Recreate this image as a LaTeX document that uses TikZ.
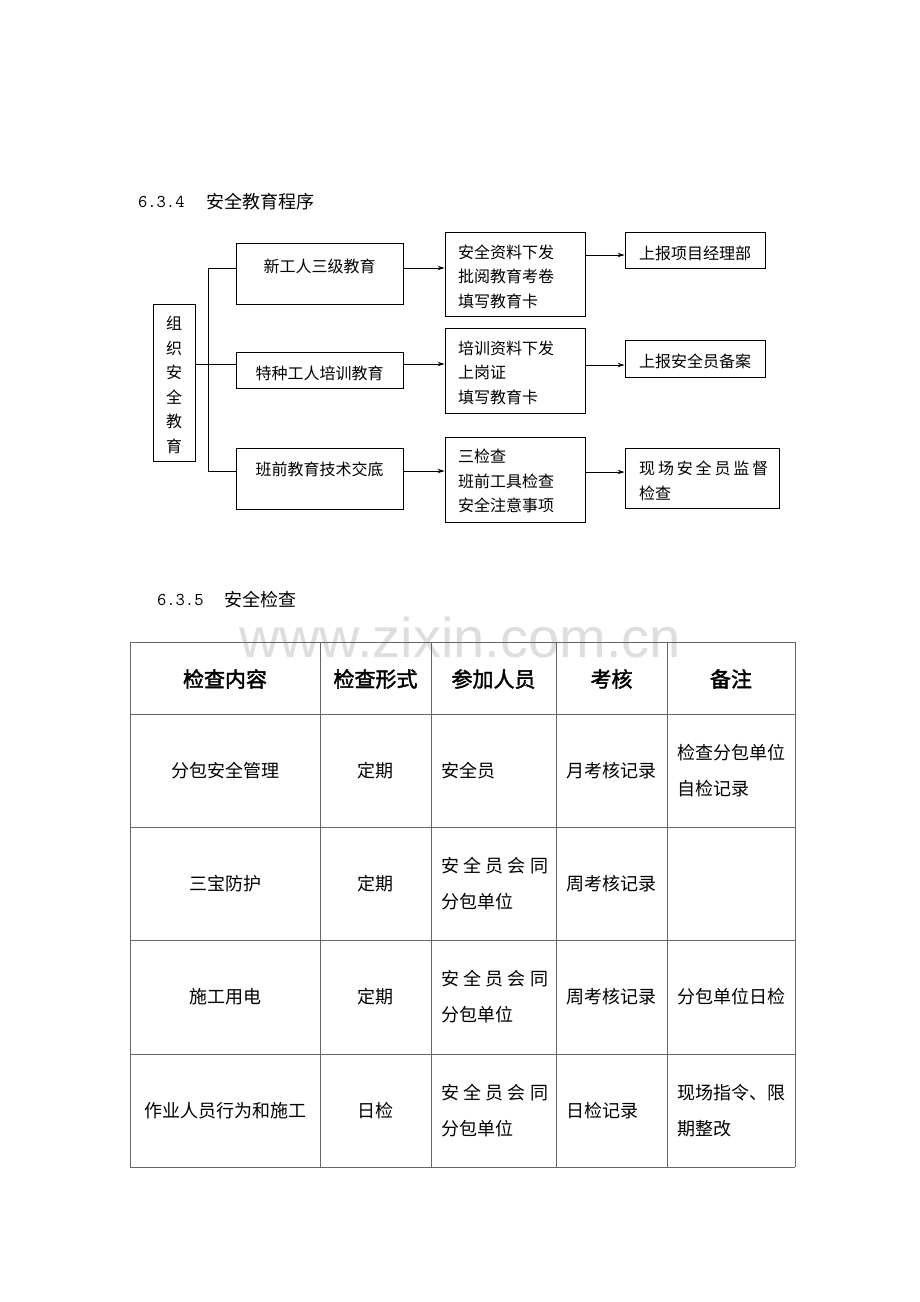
\documentclass[tikz,border=0pt]{standalone}
\usepackage{fontspec}
\setmainfont{Noto Sans CJK SC}[AutoFakeBold=2]
\newfontfamily\wmfont{Liberation Sans}
\usetikzlibrary{arrows.meta}
\begin{document}
\begin{tikzpicture}[x=1pt,y=-1pt,
  box/.style={draw, line width=0.9pt, inner sep=0pt},
  fc/.style={font=\fontsize{16}{24.5}\selectfont, inner sep=0pt},
  tb/.style={font=\fontsize{18}{36}\selectfont, inner sep=0pt},
  th/.style={font=\fontsize{21}{21}\selectfont\bfseries, inner sep=0pt},
  ttl/.style={font=\fontsize{18}{18}\selectfont, inner sep=0pt, anchor=west},
  link/.style={line width=0.9pt},
  arr/.style={line width=0.9pt, -{Stealth[length=7pt,width=4.5pt]}},
  grid/.style={draw=black!60, line width=1pt}]
\useasboundingbox[fill=white] (0,0) rectangle (920,1302);

% titles
\node[ttl] (n634) at (138,202) {\ttfamily 6.3.4};
\node[ttl] (t634) at (206,202) {安全教育程序};
\node[ttl] (n635) at (157,600) {\ttfamily 6.3.5};
\node[ttl] (t635) at (224,600) {安全检查};

% watermark
\node[text=black!13, font=\wmfont\fontsize{56}{56}\selectfont, inner sep=0pt] (wm) at (460,637) {www.zixin.com.cn};

% flowchart boxes
\node[box, minimum width=42pt, minimum height=157pt] (org) at (174,382.5) {};
\node[fc, align=center] (orgt) at (174,385) {组\\织\\安\\全\\教\\育};

\node[box, minimum width=167pt, minimum height=61pt] (b1) at (319.5,273.5) {};
\node[fc] (b1t) at (319.5,266) {新工人三级教育};
\node[box, minimum width=167pt, minimum height=36pt] (b2) at (319.5,370) {};
\node[fc] (b2t) at (319.5,373) {特种工人培训教育};
\node[box, minimum width=167pt, minimum height=61pt] (b3) at (319.5,478.5) {};
\node[fc] (b3t) at (319.5,469) {班前教育技术交底};

\node[box, minimum width=140pt, minimum height=84pt] (m1) at (515,274) {};
\node[fc, anchor=west, align=left] (m1t) at (458,276.5) {安全资料下发\\批阅教育考卷\\填写教育卡};
\node[box, minimum width=140pt, minimum height=85pt] (m2) at (515,370.5) {};
\node[fc, anchor=west, align=left] (m2t) at (458,372.5) {培训资料下发\\上岗证\\填写教育卡};
\node[box, minimum width=140pt, minimum height=85pt] (m3) at (515,479.5) {};
\node[fc, anchor=west, align=left] (m3t) at (458,481) {三检查\\班前工具检查\\安全注意事项};

\node[box, minimum width=140pt, minimum height=36pt] (r1) at (695,250) {};
\node[fc] (r1t) at (695,253) {上报项目经理部};
\node[box, minimum width=140pt, minimum height=37pt] (r2) at (695,358.5) {};
\node[fc] (r2t) at (695,361) {上报安全员备案};
\node[box, minimum width=154pt, minimum height=60pt] (r3) at (702,478) {};
\node[fc, anchor=west, align=left] (r3t) at (639,481) {\hbox to 129pt{现\hfil 场\hfil 安\hfil 全\hfil 员\hfil 监\hfil 督}\\检查};

% connectors
\coordinate (j1) at (208,268);
\coordinate (j2) at (208,364);
\coordinate (j3) at (208,471);
\draw[link] (b1.west|-j1) -- (j1) -- (j3) -- (b3.west|-j3);
\draw[link] (org.east|-j2) -- (b2.west|-j2);
\draw[arr] (b1.east|-j1) -- (m1.west|-j1);
\draw[arr] (b2.east|-j2) -- (m2.west|-j2);
\draw[arr] (b3.east|-j3) -- (m3.west|-j3);
\coordinate (k1) at (600,255);
\coordinate (k2) at (600,365);
\coordinate (k3) at (600,472);
\draw[arr] (m1.east|-k1) -- (r1.west|-k1);
\draw[arr] (m2.east|-k2) -- (r2.west|-k2);
\draw[arr] (m3.east|-k3) -- (r3.west|-k3);

% table grid
\foreach \x in {130,320,431,556,667,795} \draw[grid] (\x,642) -- (\x,1167);
\foreach \y in {642,714,827,940,1054,1167} \draw[grid] (130,\y) -- (795,\y);

% header
\node[th] (h1) at (225,679) {检查内容};
\node[th] (h2) at (375.5,679) {检查形式};
\node[th] (h3) at (493.5,679) {参加人员};
\node[th] (h4) at (611.5,679) {考核};
\node[th] (h5) at (731,679) {备注};

% row 1
\node[tb] (c11) at (225,771) {分包安全管理};
\node[tb] (c12) at (375.5,771) {定期};
\node[tb, anchor=west] (c13) at (441,771) {安全员};
\node[tb, anchor=west] (c14) at (566,771) {月考核记录};
\node[tb, anchor=west, align=left] (c15) at (677,771) {检查分包单位\\自检记录};
% row 2
\node[tb] (c21) at (225,884) {三宝防护};
\node[tb] (c22) at (375.5,884) {定期};
\node[tb, anchor=west, align=left] (c23) at (441,884) {\hbox to 107pt{安\hfil 全\hfil 员\hfil 会\hfil 同}\\分包单位};
\node[tb, anchor=west] (c24) at (566,884) {周考核记录};
% row 3
\node[tb] (c31) at (225,997) {施工用电};
\node[tb] (c32) at (375.5,997) {定期};
\node[tb, anchor=west, align=left] (c33) at (441,997) {\hbox to 107pt{安\hfil 全\hfil 员\hfil 会\hfil 同}\\分包单位};
\node[tb, anchor=west] (c34) at (566,997) {周考核记录};
\node[tb, anchor=west] (c35) at (677,997) {分包单位日检};
% row 4
\node[tb] (c41) at (225,1111) {作业人员行为和施工};
\node[tb] (c42) at (375.5,1111) {日检};
\node[tb, anchor=west, align=left] (c43) at (441,1111) {\hbox to 107pt{安\hfil 全\hfil 员\hfil 会\hfil 同}\\分包单位};
\node[tb, anchor=west] (c44) at (566,1111) {日检记录};
\node[tb, anchor=west, align=left] (c45) at (677,1111) {现场指令、限\\期整改};
\end{tikzpicture}
\end{document}
